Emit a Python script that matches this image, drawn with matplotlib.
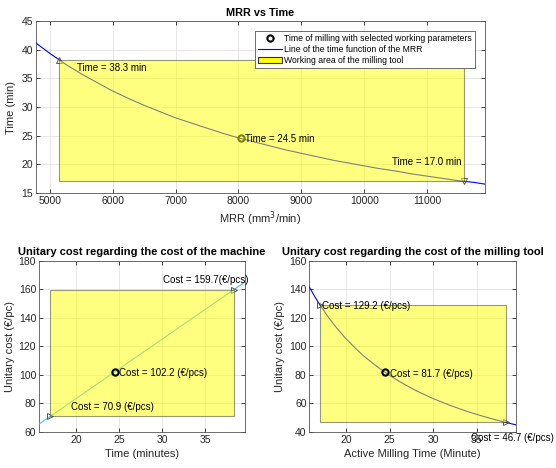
import matplotlib
matplotlib.use("Agg")
from matplotlib import pyplot as plt
from matplotlib.patches import Rectangle, Patch
from matplotlib.lines import Line2D

plt.rcParams['font.family'] = ['Liberation Sans', 'DejaVu Sans']
plt.rcParams['axes.edgecolor'] = '#555555'
plt.rcParams['axes.linewidth'] = 0.6
plt.rcParams['xtick.color'] = '#262626'
plt.rcParams['ytick.color'] = '#262626'
plt.rcParams['xtick.labelsize'] = 7.5
plt.rcParams['ytick.labelsize'] = 7.5

# MRR vs time curve (mm3/min, min)
mrr = [4780, 5000, 5250, 5500, 5750, 6000, 6250, 6500, 6750, 7000, 7250, 7500,
       7750, 8000, 8250, 8500, 8750, 9000, 9250, 9500, 9750, 10000, 10250,
       10500, 10750, 11000, 11250, 11500, 11750, 11920]
time_min = [41.2, 39.4, 37.5, 35.8, 34.3, 32.8, 31.5, 30.3, 29.2, 28.1, 27.2, 26.3,
            25.4, 24.6, 23.9, 23.2, 22.5, 21.9, 21.3, 20.7, 20.2, 19.7, 19.2,
            18.8, 18.3, 17.9, 17.5, 17.1, 16.8, 16.5]
mrr_low, mrr_sel, mrr_high = 5144, 8041, 11588
t_high, t_sel, t_low = 38.3, 24.5, 17.0

# unitary cost vs time, machine cost
t_machine = [15.7, 39.6]
cost_machine = [65.5, 165.1]
machine_low, machine_sel, machine_high = 70.9, 102.2, 159.7

# unitary cost vs time, milling tool cost
t_tool = [15.8, 16.5, 17.0, 18.0, 19.0, 20.0, 21.0, 22.0, 23.0, 24.0, 25.0, 26.0,
          27.0, 28.0, 29.0, 30.0, 32.0, 34.0, 36.0, 38.0, 39.5]
cost_tool = [141.6, 134.1, 129.2, 120.3, 112.4, 105.4, 99.2, 93.5, 88.5, 83.9, 79.7,
             75.9, 72.4, 69.1, 66.2, 63.4, 58.5, 54.2, 50.5, 47.2, 45.0]
tool_high, tool_sel, tool_low = 129.2, 81.7, 46.7

YELLOW = '#ffff00'


def style_axes(ax):
    ax.grid(True, color='#e3e3e3', linewidth=0.6)
    ax.set_axisbelow(True)
    ax.tick_params(direction='in', length=3, width=0.6, top=True, right=True, pad=2)


def work_area(ax, x0, x1, y0, y1):
    ax.add_patch(Rectangle((x0, y0), x1 - x0, y1 - y0, facecolor=YELLOW, alpha=0.5,
                           edgecolor='#333333', linewidth=0.8, zorder=4))


fig = plt.figure(figsize=(5.56, 4.68), dpi=100)

# --- MRR vs Time
ax1 = fig.add_axes([0.0647, 0.5882, 0.8076, 0.3662])
style_axes(ax1)
ax1.plot(mrr, time_min, color='#0000ff', linewidth=0.8, zorder=3)
ax1.plot([mrr_low], [t_high], '^', mfc='none', mec='#555555', ms=5, mew=0.7, zorder=3)
ax1.plot([mrr_high], [t_low], 'v', mfc='none', mec='#555555', ms=5, mew=0.7, zorder=3)
ax1.plot([mrr_sel], [t_sel], 'o', mfc='none', mec='black', ms=4.5, mew=1.5, zorder=3)
work_area(ax1, mrr_low, mrr_high, t_low, t_high)
ax1.text(5430, 36.9, f'Time = {t_high:.1f} min', fontsize=7, va='center', zorder=6)
ax1.text(8100, 24.45, f'Time = {t_sel:.1f} min', fontsize=7, va='center', zorder=6)
ax1.text(11545, 20.3, f'Time = {t_low:.1f} min', fontsize=7, va='center', ha='right', zorder=6)
ax1.set_xlim(4780, 11920)
ax1.set_ylim(15, 45)
ax1.set_xticks(range(5000, 11001, 1000))
ax1.set_yticks(range(15, 46, 5))
ax1.set_title('MRR vs Time', fontsize=7.8, fontweight='bold', pad=4)
ax1.set_xlabel('MRR (mm$^3$/min)', fontsize=8, color='#262626', labelpad=3)
ax1.set_ylabel('Time (min)', fontsize=8, color='#262626', labelpad=4)
handles = [
    Line2D([], [], linestyle='none', marker='o', mfc='none', mec='black', ms=4.5, mew=1.5),
    Line2D([], [], color='#0000ff', linewidth=0.8),
    Patch(facecolor=YELLOW, edgecolor='#333333', linewidth=0.8),
]
labels = ['Time of milling with selected working parameters',
          'Line of the time function of the MRR',
          'Working area of the milling tool']
leg = ax1.legend(handles, labels, loc='upper right', bbox_to_anchor=(0.978, 0.943),
                 fontsize=6.2, frameon=True, fancybox=False, framealpha=1,
                 edgecolor='#555555', borderpad=0.35, labelspacing=0.2,
                 handlelength=2.8, handletextpad=0.25, borderaxespad=0)
leg.get_frame().set_linewidth(0.6)
leg.set_zorder(10)

# --- Unitary cost, machine
ax2 = fig.add_axes([0.0701, 0.0769, 0.3705, 0.366])
style_axes(ax2)
ax2.plot(t_machine, cost_machine, color='#4dbeee', linewidth=0.8, zorder=3)
ax2.plot([t_low, t_high], [machine_low, machine_high], '>', mfc='none', mec='#555555',
         ms=5, mew=0.7, zorder=3)
work_area(ax2, t_low, t_high, machine_low, machine_high)
ax2.plot([t_sel], [machine_sel], 'o', mfc='none', mec='black', ms=4.5, mew=1.5, zorder=5)
ax2.text(30.1, 166.5, f'Cost = {machine_high:.1f}(€/pcs)', fontsize=7, va='center',
         zorder=6, clip_on=False)
ax2.text(25.0, 101.6, f'Cost = {machine_sel:.1f} (€/pcs)', fontsize=7, va='center', zorder=6)
ax2.text(19.4, 77.7, f'Cost = {machine_low:.1f} (€/pcs)', fontsize=7, va='center', zorder=6)
ax2.set_xlim(15.7, 39.6)
ax2.set_ylim(60, 180)
ax2.set_xticks([20, 25, 30, 35])
ax2.set_yticks(range(60, 181, 20))
ax2.set_title('Unitary cost regarding the cost of the machine', fontsize=8,
              fontweight='bold', pad=4)
ax2.set_xlabel('Time (minutes)', fontsize=8, color='#262626', labelpad=3)
ax2.set_ylabel('Unitary cost (€/pc)', fontsize=8, color='#262626', labelpad=3)

# --- Unitary cost, milling tool
ax3 = fig.add_axes([0.5563, 0.0769, 0.3718, 0.366])
style_axes(ax3)
ax3.plot(t_tool, cost_tool, color='#0000ff', linewidth=0.8, zorder=3)
ax3.plot([t_low, t_high], [tool_high, tool_low], '>', mfc='none', mec='#555555',
         ms=5, mew=0.7, zorder=3)
work_area(ax3, t_low, t_high, tool_low, tool_high)
ax3.plot([t_sel], [tool_sel], 'o', mfc='none', mec='black', ms=4.5, mew=1.5, zorder=5)
ax3.text(17.3, 128.3, f'Cost = {tool_high:.1f} (€/pcs)', fontsize=7, va='center', zorder=6)
ax3.text(25.0, 80.6, f'Cost = {tool_sel:.1f} (€/pcs)', fontsize=7, va='center', zorder=6)
ax3.text(34.3, 35.6, f'Cost = {tool_low:.1f} (€/pcs)', fontsize=7, va='center',
         zorder=6, clip_on=False)
ax3.set_xlim(15.8, 39.5)
ax3.set_ylim(40, 160)
ax3.set_xticks([20, 25, 30, 35])
ax3.set_yticks(range(40, 161, 20))
ax3.set_title('Unitary cost regarding the cost of the milling tool', fontsize=8,
              fontweight='bold', pad=4)
ax3.set_xlabel('Active Milling Time (Minute)', fontsize=8, color='#262626', labelpad=3)
ax3.set_ylabel('Unitary cost (€/pc)', fontsize=8, color='#262626', labelpad=3)

fig.savefig('out.png', dpi=100)
